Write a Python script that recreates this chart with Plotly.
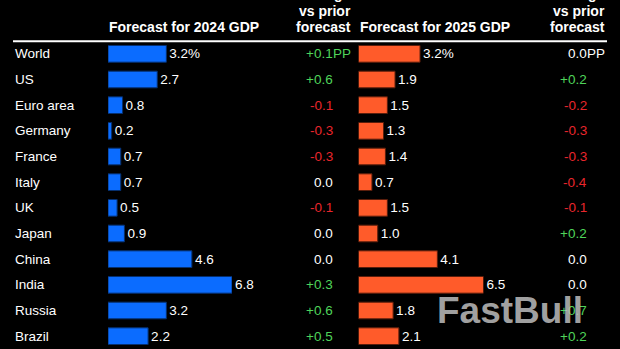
import plotly.graph_objects as go

countries = ["World", "US", "Euro area", "Germany", "France", "Italy", "UK",
             "Japan", "China", "India", "Russia", "Brazil"]
gdp_2024 = [3.2, 2.7, 0.8, 0.2, 0.7, 0.7, 0.5, 0.9, 4.6, 6.8, 3.2, 2.2]
chg_2024 = [0.1, 0.6, -0.1, -0.3, -0.3, 0.0, -0.1, 0.0, 0.0, 0.3, 0.6, 0.5]
gdp_2025 = [3.2, 1.9, 1.5, 1.3, 1.4, 0.7, 1.5, 1.0, 4.1, 6.5, 1.8, 2.1]
chg_2025 = [0.0, 0.2, -0.2, -0.3, -0.3, -0.4, -0.1, 0.2, 0.0, 0.0, 0.7, 0.2]

W, H = 620, 349
TOP = 41
FONT = "Liberation Sans, Arial, Helvetica, sans-serif"
BLUE = "#0b6cff"
ORANGE = "#ff5b2a"
GREEN = "#4fd45a"
RED = "#e8262c"
WHITE = "#ffffff"


def px_x(p):
    return p / W


def px_y(p):
    return (H - p) / (H - TOP)


def fmt_val(v, first):
    return f"{v:.1f}" + ("%" if first else "")


def fmt_chg(v):
    if v > 0:
        return f"+{v:.1f}"
    if v < 0:
        return f"-{abs(v):.1f}"
    return "0.0"


def chg_color(v):
    return GREEN if v > 0 else (RED if v < 0 else WHITE)


fig = go.Figure()

fig.add_trace(go.Bar(
    y=countries, x=gdp_2024, orientation="h", xaxis="x", yaxis="y",
    marker=dict(color=BLUE, line=dict(color="#06306e", width=1)),
    text=[fmt_val(v, i == 0) for i, v in enumerate(gdp_2024)],
    textposition="outside", cliponaxis=False, constraintext="none",
    textfont=dict(color=WHITE, size=13.5, family=FONT),
    hoverinfo="skip",
))
fig.add_trace(go.Bar(
    y=countries, x=gdp_2025, orientation="h", xaxis="x2", yaxis="y",
    marker=dict(color=ORANGE, line=dict(color="#5a1e0c", width=1)),
    text=[fmt_val(v, i == 0) for i, v in enumerate(gdp_2025)],
    textposition="outside", cliponaxis=False, constraintext="none",
    textfont=dict(color=WHITE, size=13.5, family=FONT),
    hoverinfo="skip",
))

ann = []
for i, c in enumerate(countries):
    ann.append(dict(x=px_x(13), xref="paper", y=c, yref="y", text=c,
                    xanchor="left", yanchor="middle", showarrow=False,
                    font=dict(color=WHITE, size=13.5, family=FONT)))
    for vals, xr in ((chg_2024, 334.5), (chg_2025, 588.5)):
        v = vals[i]
        ann.append(dict(x=px_x(xr), xref="paper", y=c, yref="y", text=fmt_chg(v),
                        xanchor="right", yanchor="middle", showarrow=False,
                        font=dict(color=chg_color(v), size=13.5, family=FONT)))
        if i == 0:
            ann.append(dict(x=px_x(xr - 4), xref="paper", y=c, yref="y", text="PP",
                            xanchor="left", yanchor="middle", showarrow=False,
                            font=dict(color=chg_color(v), size=13.5, family=FONT)))

hdr_font = dict(color=WHITE, size=14, family=FONT, weight="bold")
ann.append(dict(x=px_x(107), xref="paper", y=px_y(27), yref="paper",
                text="<b>Forecast for 2024 GDP</b>", xanchor="left", yanchor="middle",
                showarrow=False, font=hdr_font))
ann.append(dict(x=px_x(358), xref="paper", y=px_y(27), yref="paper",
                text="<b>Forecast for 2025 GDP</b>", xanchor="left", yanchor="middle",
                showarrow=False, font=hdr_font))
for xr in (352.5, 606.5):
    for txt, py in (("Change", -6), ("vs prior", 11), ("forecast", 27)):
        ann.append(dict(x=px_x(xr), xref="paper", y=px_y(py), yref="paper",
                        text=f"<b>{txt}</b>", xanchor="right", yanchor="middle",
                        showarrow=False, font=hdr_font))

# watermark
ann.append(dict(x=px_x(510), xref="paper", y=px_y(310), yref="paper",
                text="<b>FastBull</b>", xanchor="center", yanchor="middle",
                showarrow=False,
                font=dict(color="rgba(190,190,190,0.85)", size=37, family=FONT)))

fig.update_layout(
    width=W, height=H,
    margin=dict(l=0, r=0, t=TOP, b=0, pad=0),
    paper_bgcolor="#000000", plot_bgcolor="#000000",
    showlegend=False,
    bargap=0.35,
    xaxis=dict(domain=[px_x(108), px_x(232)], range=[0, max(gdp_2024)],
               visible=False, fixedrange=True),
    xaxis2=dict(domain=[px_x(358.5), px_x(483.5)], range=[0, max(gdp_2025)],
                visible=False, fixedrange=True, anchor="y"),
    yaxis=dict(domain=[0, 1], autorange="reversed", visible=False,
               type="category", fixedrange=True),
    annotations=ann,
    shapes=[dict(type="line", xref="paper", yref="paper",
                 x0=px_x(13), x1=px_x(607), y0=px_y(41.3), y1=px_y(41.3),
                 line=dict(color=WHITE, width=2))],
)

fig.write_html("out.html")
